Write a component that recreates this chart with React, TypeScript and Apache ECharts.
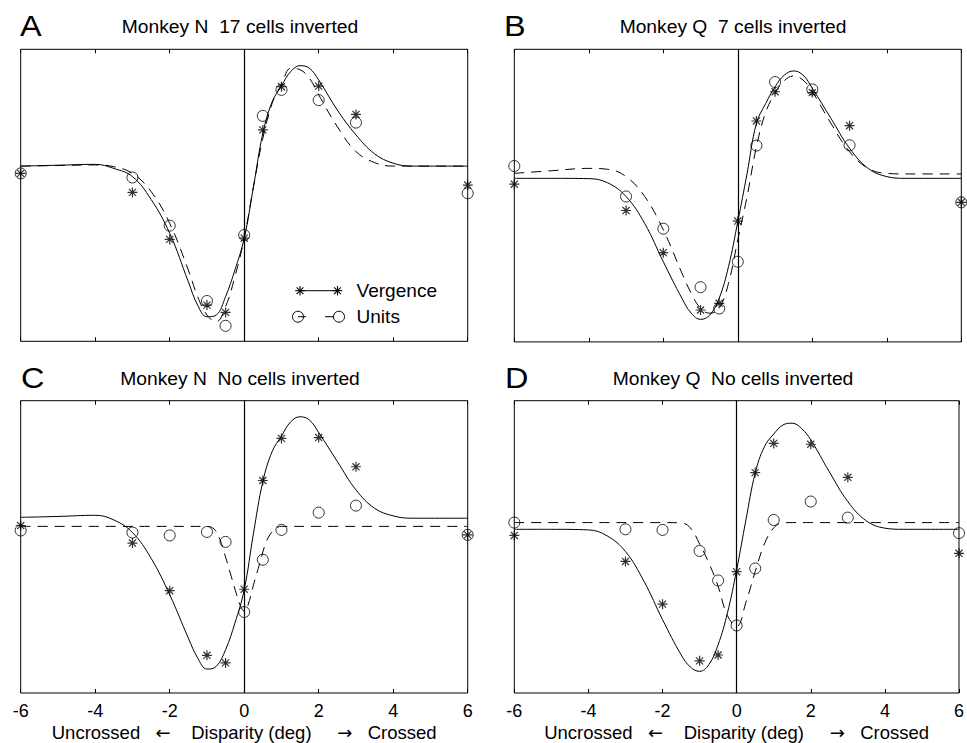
import React, { useEffect, useRef } from "react";
import * as echarts from "echarts";

// ---------- data ----------
const curveX = [-6, -5, -4, -3.5, -3, -2.5, -2, -1.5, -1.25, -1, -0.75, -0.5, -0.25, 0, 0.25, 0.5, 0.75, 1, 1.25, 1.5, 1.75, 2, 2.5, 3, 3.5, 4, 4.5, 6];

const vergFitA = [60.0, 60.3, 60.6, 59.2, 56.4, 48.6, 37.0, 20.4, 12.4, 8.4, 9.0, 15.3, 24.4, 35.3, 53.0, 71.2, 82.0, 87.5, 92.4, 94.4, 93.5, 89.5, 79.2, 70.7, 64.2, 61.0, 60.0, 60.0];
const unitFitA = [60.0, 60.2, 60.4, 59.8, 57.5, 51.3, 40.4, 24.4, 15.3, 9.0, 6.7, 11.9, 22.1, 35.3, 53.0, 69.5, 81.5, 87.8, 93.5, 93.0, 90.1, 84.4, 73.5, 65.0, 61.2, 60.0, 60.0, 60.0];

const vergFitB = [55.9, 55.9, 55.8, 54.4, 49.7, 40.5, 27.4, 14.9, 9.8, 7.7, 9.2, 14.9, 25.7, 41.1, 57.6, 74.7, 81.5, 87.2, 91.2, 92.6, 91.2, 86.7, 76.4, 66.2, 59.3, 56.5, 55.9, 55.9];
const unitFitB = [57.6, 58.5, 59.3, 59.0, 56.5, 49.7, 38.3, 23.5, 16.6, 11.5, 9.8, 11.5, 20.0, 34.9, 49.7, 66.7, 78.5, 85.0, 89.3, 90.9, 89.5, 85.5, 74.7, 65.0, 59.3, 57.6, 57.4, 57.4];

const vergFitC = [60.1, 60.4, 60.8, 59.2, 54.9, 46.1, 33.6, 18.8, 12.0, 8.2, 9.1, 14.8, 23.9, 35.3, 54.7, 72.3, 82.6, 87.9, 92.8, 94.5, 93.4, 89.1, 79.2, 69.5, 63.2, 60.6, 59.8, 59.8];
const unitFitCX = [-6, -4, -2, -1, -0.8, -0.65, -0.5, -0.35, -0.2, -0.1, 0, 0.1, 0.25, 0.42, 0.6, 0.78, 0.9, 1, 2, 4, 6];
const unitFitC = [57.0, 57.0, 57.0, 57.0, 56.0, 52.5, 46.5, 40.0, 33.5, 29.8, 28.0, 30.0, 37.0, 44.5, 52.0, 55.6, 56.7, 57.0, 57.0, 57.0, 57.0];

const vergFitD = [56.0, 56.0, 55.8, 53.8, 48.4, 38.2, 25.1, 13.1, 8.9, 7.4, 9.7, 16.5, 27.3, 42.1, 59.2, 75.2, 84.3, 88.6, 91.7, 92.3, 90.5, 86.6, 75.7, 65.5, 58.9, 56.4, 56.0, 56.0];
const unitFitDX = [-6, -4, -2, -1.5, -1.25, -1, -0.75, -0.5, -0.25, 0, 0.25, 0.5, 0.75, 1, 1.25, 1.5, 2, 4, 6];
const unitFitD = [58.3, 58.3, 58.3, 58.2, 56.5, 51.0, 44.5, 36.5, 26.5, 22.8, 31.0, 41.5, 51.0, 56.5, 58.2, 58.3, 58.3, 58.3, 58.3];

const pointX = [-6, -3, -2, -1, -0.5, 0, 0.5, 1, 2, 3, 6];
const vergPtsA = [57.5, 51.0, 34.9, 12.4, 9.9, 35.3, 72.4, 87.2, 87.4, 77.7, 53.5];
const unitPtsA = [57.5, 56.1, 39.6, 13.8, 5.3, 36.4, 77.2, 86.1, 82.6, 74.9, 50.7];
const vergPtsB = [53.9, 44.9, 30.5, 10.9, 13.2, 41.3, 75.5, 85.5, 85.2, 73.9, 47.7];
const unitPtsB = [60.1, 49.7, 38.7, 18.7, 11.4, 27.4, 67.1, 88.8, 86.3, 67.2, 47.7];
const vergPtsC = [57.3, 51.3, 35.0, 12.9, 10.3, 35.5, 72.7, 87.1, 87.4, 77.4, 54.1];
const unitPtsC = [55.6, 54.9, 53.9, 55.1, 51.7, 27.7, 45.6, 55.8, 61.7, 64.1, 54.1];
const vergPtsD = [53.9, 45.0, 30.4, 11.0, 13.0, 41.5, 75.4, 85.4, 85.1, 73.8, 47.8];
const unitPtsD = [58.3, 56.0, 55.8, 48.6, 38.5, 23.1, 42.6, 59.2, 65.5, 60.0, 54.7];

const panelLetters = ["A", "B", "C", "D"];
const panelTitles = [
  "Monkey N  17 cells inverted",
  "Monkey Q  7 cells inverted",
  "Monkey N  No cells inverted",
  "Monkey Q  No cells inverted",
];
const xAxisName = "Uncrossed   {arr|\u2190}    Disparity (deg)     {arr|\u2192}   Crossed";
const legendNames = ["Vergence", "Units"];
const xMin = -6;
const xMax = 6;
const xInterval = 2;

// ---------- layout / style ----------
const FONT = "'Liberation Sans', Arial, Helvetica, sans-serif";
const grids = [
  { left: 20.7, top: 49.3, width: 447, height: 292 },
  { left: 514.3, top: 49.3, width: 447, height: 292.6 },
  { left: 20.7, top: 400.7, width: 447, height: 292.6 },
  { left: 514.3, top: 400.7, width: 447.3, height: 292.6 },
];
const letterPos = [
  [20, 26],
  [504, 26],
  [21, 378],
  [505, 378],
];
const titlePos = [
  [240, 27],
  [733, 27],
  [240, 379],
  [733, 379],
];

const ASTERISK = "path://M5 0L5 10M0 5L10 5M1.46 1.46L8.54 8.54M1.46 8.54L8.54 1.46";

const panels = [
  { vFit: vergFitA, uFitX: curveX, uFit: unitFitA, vPts: vergPtsA, uPts: unitPtsA },
  { vFit: vergFitB, uFitX: curveX, uFit: unitFitB, vPts: vergPtsB, uPts: unitPtsB },
  { vFit: vergFitC, uFitX: unitFitCX, uFit: unitFitC, vPts: vergPtsC, uPts: unitPtsC },
  { vFit: vergFitD, uFitX: unitFitDX, uFit: unitFitD, vPts: vergPtsD, uPts: unitPtsD },
];

function asterisk(cx: number, cy: number, r: number) {
  const els: any[] = [];
  for (let k = 0; k < 4; k++) {
    const a = (k * Math.PI) / 4;
    const dx = r * Math.cos(a);
    const dy = r * Math.sin(a);
    els.push({
      type: "line",
      shape: { x1: cx - dx, y1: cy - dy, x2: cx + dx, y2: cy + dy },
      style: { stroke: "#000", lineWidth: 1.1 },
    });
  }
  return els;
}

function textEl(text: string, x: number, y: number, size: number, align: string, sx: number) {
  return {
    type: "text",
    x,
    y,
    scaleX: sx,
    style: {
      text,
      fontSize: size,
      fontFamily: FONT,
      fill: "#000",
      align,
      verticalAlign: "middle",
      textAlign: align,
      textVerticalAlign: "middle",
    },
  };
}

function buildOption() {
  const xAxes: any[] = [];
  const yAxes: any[] = [];
  const series: any[] = [];

  panels.forEach((p, i) => {
    const showLabels = i >= 2;
    const tickStyle = { show: true, inside: true, length: 4, lineStyle: { color: "#000", width: 1 } };
    xAxes.push({
      type: "value",
      gridIndex: i,
      min: xMin,
      max: xMax,
      interval: xInterval,
      position: "bottom",
      axisLine: { show: false },
      axisTick: tickStyle,
      splitLine: { show: false },
      axisLabel: {
        show: showLabels,
        fontSize: 18,
        color: "#000",
        fontFamily: FONT,
        margin: 9,
      },
      name: showLabels ? xAxisName : "",
      nameLocation: "middle",
      nameGap: 30,
      nameTextStyle: {
        fontSize: 18.5,
        color: "#000",
        fontFamily: FONT,
        rich: {
          arr: { fontSize: 18, fontFamily: "'DejaVu Sans', sans-serif", color: "#000" },
        },
      },
    });
    xAxes.push({
      type: "value",
      gridIndex: i,
      min: xMin,
      max: xMax,
      interval: xInterval,
      position: "top",
      axisLine: { show: false },
      axisTick: tickStyle,
      splitLine: { show: false },
      axisLabel: { show: false },
    });
    yAxes.push({
      type: "value",
      gridIndex: i,
      min: 0,
      max: 100,
      show: false,
    });

    series.push({
      type: "line",
      xAxisIndex: 2 * i,
      yAxisIndex: i,
      data: curveX.map((x, j) => [x, p.vFit[j]]),
      smooth: 0.4,
      symbol: "none",
      lineStyle: { color: "#000", width: 1 },
      z: 3,
      markLine: {
        silent: true,
        symbol: ["none", "none"],
        label: { show: false },
        lineStyle: { color: "#000", type: "solid", width: 1.2 },
        data: [{ xAxis: 0 }],
      },
    });
    series.push({
      type: "line",
      xAxisIndex: 2 * i,
      yAxisIndex: i,
      data: p.uFitX.map((x, j) => [x, p.uFit[j]]),
      smooth: 0.4,
      symbol: "none",
      lineStyle: { color: "#000", width: 1, type: [10, 7] },
      z: 3,
    });
    series.push({
      type: "scatter",
      xAxisIndex: 2 * i,
      yAxisIndex: i,
      data: pointX.map((x, j) => [x, p.vPts[j]]),
      symbol: ASTERISK,
      symbolSize: 10,
      clip: false,
      itemStyle: { color: "transparent", borderColor: "#000", borderWidth: 1.2 },
      z: 4,
    });
    series.push({
      type: "scatter",
      xAxisIndex: 2 * i,
      yAxisIndex: i,
      data: pointX.map((x, j) => [x, p.uPts[j]]),
      symbol: "circle",
      symbolSize: 11,
      clip: false,
      itemStyle: { color: "transparent", borderColor: "#000", borderWidth: 1 },
      z: 4,
    });
  });

  const graphics: any[] = [];
  panelLetters.forEach((L, i) => {
    graphics.push(textEl(L, letterPos[i][0], letterPos[i][1], 30, "left", 1.08));
  });
  panelTitles.forEach((t, i) => {
    graphics.push(textEl(t, titlePos[i][0], titlePos[i][1], 18, "center", 1.07));
  });

  // legend in panel A
  const lv = 290.7;
  const lu = 316.7;
  graphics.push({
    type: "line",
    shape: { x1: 300, y1: lv, x2: 337.5, y2: lv },
    style: { stroke: "#000", lineWidth: 1 },
  });
  asterisk(300, lv, 4.8).forEach((e) => graphics.push(e));
  asterisk(337.5, lv, 4.8).forEach((e) => graphics.push(e));
  graphics.push({
    type: "circle",
    shape: { cx: 298, cy: lu, r: 5.5 },
    style: { stroke: "#000", fill: "none", lineWidth: 1 },
  });
  graphics.push({
    type: "circle",
    shape: { cx: 339, cy: lu, r: 5.5 },
    style: { stroke: "#000", fill: "none", lineWidth: 1 },
  });
  graphics.push({
    type: "line",
    shape: { x1: 298, y1: lu, x2: 306, y2: lu },
    style: { stroke: "#000", lineWidth: 1 },
  });
  graphics.push({
    type: "line",
    shape: { x1: 325, y1: lu, x2: 334, y2: lu },
    style: { stroke: "#000", lineWidth: 1 },
  });
  legendNames.forEach((n, k) => {
    graphics.push(textEl(n, 356.5, k === 0 ? lv : lu, 18, "left", 1.06));
  });

  return {
    animation: false,
    backgroundColor: "#fff",
    grid: grids.map((g) => ({ ...g, show: true, borderColor: "#000", borderWidth: 1, backgroundColor: "transparent" })),
    xAxis: xAxes,
    yAxis: yAxes,
    series,
    graphic: graphics,
  };
}

export default function App() {
  const ref = useRef<HTMLDivElement>(null);
  useEffect(() => {
    document.body.style.margin = "0";
    if (!ref.current) return;
    const chart = echarts.init(ref.current, undefined, { renderer: "svg" });
    chart.setOption(buildOption() as any);
    return () => chart.dispose();
  }, []);
  return <div ref={ref} style={{ width: 967, height: 743 }} />;
}
